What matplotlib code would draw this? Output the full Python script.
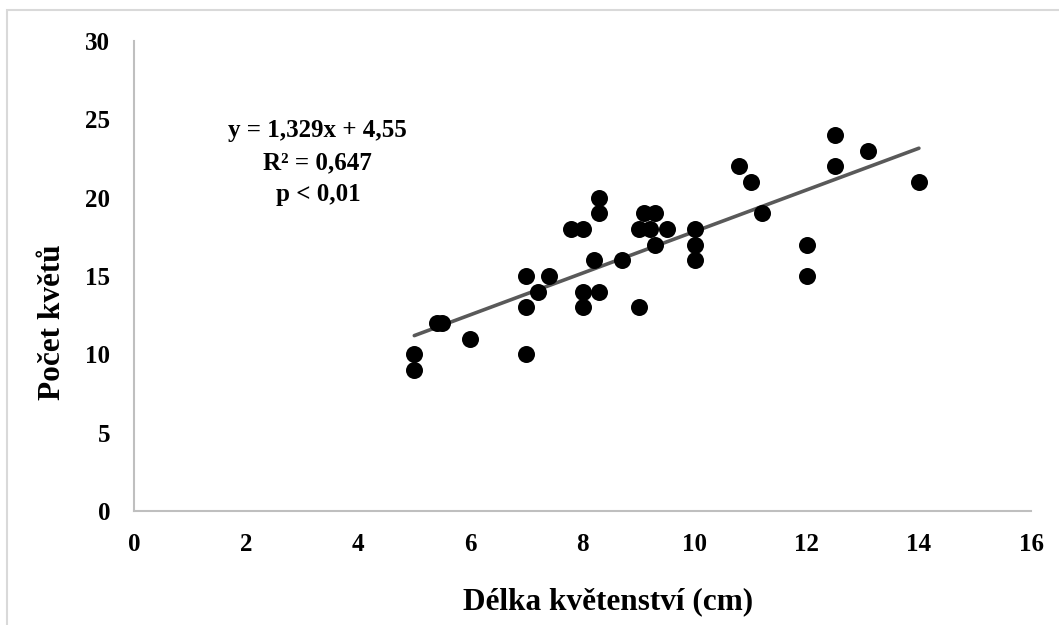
import matplotlib.pyplot as plt
from matplotlib.patches import Rectangle

delka = [5, 5, 5.4, 5.5, 6, 7, 7, 7, 7.2, 7.4,
         7.8, 8, 8, 8, 8.2, 8.3, 8.3, 8.3, 8.7, 9,
         9, 9.1, 9.2, 9.3, 9.3, 9.5, 10, 10, 10, 10.8,
         11, 11.2, 12, 12, 12.5, 12.5, 13.1, 14]
pocet = [10, 9, 12, 12, 11, 15, 13, 10, 14, 15,
         18, 18, 14, 13, 16, 20, 19, 14, 16, 18,
         13, 19, 18, 19, 17, 18, 18, 17, 16, 22,
         21, 19, 17, 15, 24, 22, 23, 21]

# Trend line coefficients as printed on the chart
slope = 1.329
intercept = 4.55

x_ticks = [0, 2, 4, 6, 8, 10, 12, 14, 16]
y_ticks = [0, 5, 10, 15, 20, 25, 30]

plt.rcParams['font.family'] = ['Liberation Serif', 'DejaVu Serif']
plt.rcParams['font.weight'] = 'bold'

fig = plt.figure(figsize=(10.59, 6.25), dpi=100)
ax = fig.add_axes([0.1265, 0.1824, 0.8471, 0.752])

# light grey chart border (extends past right/bottom edge)
fig.patches.append(Rectangle((7 / 1059, -0.1), 1.2, 1 - 10 / 625 + 0.1,
                             transform=fig.transFigure, fill=False,
                             edgecolor='#d9d9d9', linewidth=1.5))

ax.scatter(delka, pocet, s=150, color='black', zorder=3, linewidths=0)

x_line = [min(delka), max(delka)]
y_line = [slope * v + intercept for v in x_line]
ax.plot(x_line, y_line, color='#595959', linewidth=2.6, solid_capstyle='round', zorder=2)

eq_text = f"y = {slope:.3f}x + {intercept:.2f}".replace('.', ',')
ax.text(3.28, 22.25, eq_text + "\nR² = 0,647\np < 0,01",
        ha='center', va='center', fontsize=18, fontweight='bold',
        linespacing=1.5)

ax.set_xlim(0, 16)
ax.set_ylim(0, 30)
ax.set_xticks(x_ticks)
ax.set_yticks(y_ticks)
ax.tick_params(axis='both', length=0, labelsize=18)
ax.tick_params(axis='x', pad=16)
ax.tick_params(axis='y', pad=17)
for lbl in ax.get_xticklabels() + ax.get_yticklabels():
    lbl.set_fontweight('bold')

for side in ['top', 'right']:
    ax.spines[side].set_visible(False)
for side in ['left', 'bottom']:
    ax.spines[side].set_color('#bfbfbf')
    ax.spines[side].set_linewidth(1.5)

ax.set_xlabel("Délka květenství (cm)", fontsize=22.5, fontweight='bold')
ax.set_ylabel("Počet květů", fontsize=22.5, fontweight='bold')
ax.xaxis.set_label_coords(0.528, -0.162)
ax.yaxis.set_label_coords(-0.075, 0.402)

fig.savefig("out.png", dpi=100)
